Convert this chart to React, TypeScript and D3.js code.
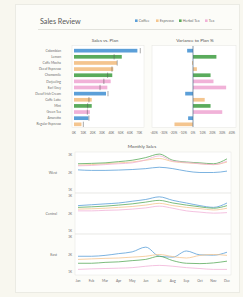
import React from 'react';
import { scaleBand, scaleLinear, scalePoint, line, curveMonotoneX } from 'd3';

const width = 243;
const height = 297;

const types = ['Coffee', 'Espresso', 'Herbal Tea', 'Tea'];
const typeColors = ['#5b9fd8', '#f4c58f', '#5aab5c', '#f1b2d8'];

const products = [
  'Colombian', 'Lemon', 'Caffe Mocha', 'Decaf Espresso', 'Chamomile', 'Darjeeling', 'Earl Grey',
  'Decaf Irish Cream', 'Caffe Latte', 'Mint', 'Green Tea', 'Amaretto', 'Regular Espresso',
];
const productTypes = [
  'Coffee', 'Herbal Tea', 'Espresso', 'Espresso', 'Herbal Tea', 'Tea', 'Tea',
  'Coffee', 'Espresso', 'Herbal Tea', 'Tea', 'Coffee', 'Espresso',
];
// thousands
const sales = [67.9, 51.2, 46, 42.1, 41, 39.3, 35.7, 34.3, 19, 19, 17, 15.4, 8];
const plan = [71, 43, 46.3, 40.7, 36, 32, 27.9, 36.4, 16, 14.6, 14.3, 16, 10];
const variance = [-6, 24, -1, 4, 18, 21, 34, -8, 12, 18, 30, -5, -19];

const salesTicks = [0, 10, 20, 30, 40, 50, 60, 70];
const varianceTicks = [-40, -30, -20, -10, 0, 10, 20, 30, 40];

const months = ['Jan', 'Feb', 'Mar', 'Apr', 'May', 'Jun', 'Jul', 'Aug', 'Sep', 'Oct', 'Nov', 'Dec'];
const regions = ['West', 'Central', 'East'];
const monthlyTicks = [1, 2, 3];

const westCoffee = [2.15, 2.12, 2.12, 2.14, 2.17, 2.22, 2.3, 2.22, 2.08, 2.0, 2.0, 2.08];
const westEspresso = [2.42, 2.45, 2.5, 2.55, 2.6, 2.7, 2.8, 2.62, 2.55, 2.5, 2.45, 2.6];
const westHerbal = [2.5, 2.52, 2.55, 2.62, 2.7, 2.85, 3.05, 2.7, 2.6, 2.55, 2.5, 2.78];
const westTea = [2.38, 2.4, 2.45, 2.5, 2.55, 2.72, 2.95, 2.65, 2.58, 2.5, 2.45, 2.65];

const centralCoffee = [2.45, 2.5, 2.55, 2.6, 2.7, 2.8, 2.95, 2.75, 2.6, 2.45, 2.35, 2.6];
const centralEspresso = [2.25, 2.27, 2.3, 2.35, 2.4, 2.48, 2.58, 2.45, 2.35, 2.28, 2.2, 2.3];
const centralHerbal = [2.35, 2.38, 2.42, 2.48, 2.55, 2.65, 2.75, 2.6, 2.48, 2.38, 2.3, 2.45];
const centralTea = [2.15, 2.15, 2.18, 2.2, 2.25, 2.32, 2.42, 2.3, 2.15, 2.08, 2.02, 2.05];

const eastCoffee = [1.9, 1.9, 1.95, 2.05, 2.15, 2.42, 1.9, 1.85, 2.2, 1.98, 1.96, 2.13];
const eastEspresso = [1.72, 1.75, 1.78, 1.8, 1.85, 1.9, 2.0, 1.88, 1.8, 1.95, 2.0, 1.95];
const eastHerbal = [1.5, 1.5, 1.55, 1.58, 1.65, 1.72, 1.9, 1.65, 1.5, 1.48, 1.52, 1.62];
const eastTea = [1.15, 1.18, 1.2, 1.22, 1.25, 1.33, 1.38, 1.33, 1.25, 1.2, 1.15, 1.15];

const monthly = [
  [westCoffee, westEspresso, westHerbal, westTea],
  [centralCoffee, centralEspresso, centralHerbal, centralTea],
  [eastCoffee, eastEspresso, eastHerbal, eastTea],
];

const font = 'Lato, "Open Sans", sans-serif';
const textColor = '#6b6b6b';
const gridColor = '#e4e4e0';

const colorOf = (t: string) => typeColors[types.indexOf(t)];

const App = () => {
  const yBand = scaleBand().domain(products).range([47.6, 127.4]).paddingInner(0.4).paddingOuter(0.2);
  const xSales = scaleLinear().domain([0, 75]).range([74, 144]);
  const xVar = scaleLinear().domain([-40, 40]).range([154, 232]);

  const xMonth = scalePoint().domain(months).range([78, 227]);
  const rowTop = 152;
  const rowH = 41;
  const yRow = (i: number) =>
    scaleLinear().domain([0.83, 3.17]).range([rowTop + (i + 1) * rowH, rowTop + i * rowH]);

  const legendX = [135, 156, 179, 205];

  return (
    <div style={{ position: 'absolute', left: 0, top: 0 }}>
      <svg width={width} height={height} style={{ display: 'block', fontFamily: font }}>
        <rect width={width} height={height} fill="#f8f7ef" />
        <rect x={15.5} y={4.5} width={224} height={288} fill="#fcfcf8" stroke="#ebebe4" />

        {/* header */}
        <text x={40} y={24} fontSize={7.2} fill="#555">Sales Review</text>
        <line x1={38} x2={232} y1={29.5} y2={29.5} stroke="#e2e2dc" />
        {types.map((t, i) => (
          <g key={t} transform={`translate(${legendX[i]}, 22)`}>
            <rect x={0} y={-2.6} width={2.6} height={2.6} fill={typeColors[i]} />
            <text x={3.8} y={0} fontSize={3.6} fill={textColor}>{t}</text>
          </g>
        ))}

        {/* Sales vs. Plan */}
        <text x={105} y={42} fontSize={4.6} textAnchor="middle" fill="#555">Sales vs. Plan</text>
        <rect x={72} y={45.5} width={72} height={82} fill="#ffffff" stroke={gridColor} strokeWidth={0.5} />
        {salesTicks.map(t => (
          <text key={t} x={xSales(t)} y={134} fontSize={3.2} textAnchor="middle" fill={textColor}>
            {t}K
          </text>
        ))}
        {products.map((p, i) => {
          const y = yBand(p) as number;
          const bw = yBand.bandwidth();
          return (
            <g key={p}>
              <text x={61} y={y + bw / 2} dy="0.35em" fontSize={3.3} textAnchor="end" fill={textColor}>
                {p}
              </text>
              <rect x={xSales(0)} y={y} width={xSales(sales[i]) - xSales(0)} height={bw}
                fill={colorOf(productTypes[i])} />
              <line x1={xSales(plan[i])} x2={xSales(plan[i])} y1={y - 0.8} y2={y + bw + 0.8}
                stroke="#555" strokeWidth={0.5} />
            </g>
          );
        })}

        {/* Variance to Plan % */}
        <text x={195} y={42} fontSize={4.6} textAnchor="middle" fill="#555">Variance to Plan %</text>
        <rect x={152} y={45.5} width={84} height={82} fill="#ffffff" stroke={gridColor} strokeWidth={0.5} />
        {varianceTicks.map(t => (
          <text key={t} x={xVar(t)} y={134} fontSize={3.2} textAnchor="middle" fill={textColor}>
            {t}%
          </text>
        ))}
        {products.map((p, i) => {
          const y = yBand(p) as number;
          const x0 = xVar(Math.min(0, variance[i]));
          const x1 = xVar(Math.max(0, variance[i]));
          return (
            <rect key={p} x={x0} y={y} width={x1 - x0} height={yBand.bandwidth()}
              fill={colorOf(productTypes[i])} />
          );
        })}
        <line x1={xVar(0)} x2={xVar(0)} y1={46} y2={127} stroke="#4d6c88" strokeWidth={0.7} />

        {/* Monthly Sales */}
        <text x={142} y={148} fontSize={4.6} textAnchor="middle" fill="#555">Monthly Sales</text>
        <rect x={75} y={rowTop} width={156} height={rowH * 3} fill="#ffffff" stroke={gridColor} strokeWidth={0.5} />
        {regions.map((r, i) => {
          const ys = yRow(i);
          const mid = rowTop + i * rowH + rowH / 2;
          return (
            <g key={r}>
              {i > 0 && (
                <line x1={75} x2={231} y1={rowTop + i * rowH} y2={rowTop + i * rowH} stroke="#d9d9d4" strokeWidth={0.6} />
              )}
              <text x={57} y={mid} dy="0.35em" fontSize={3.6} textAnchor="end" fill={textColor}>{r}</text>
              {monthlyTicks.map(t => (
                <text key={t} x={72} y={ys(t)} dy="0.35em" fontSize={3} textAnchor="end" fill={textColor}>
                  {t}K
                </text>
              ))}
              {monthly[i].map((vals, k) => {
                const gen = line<number>()
                  .x((_, j) => xMonth(months[j]) as number)
                  .y(v => ys(v))
                  .curve(curveMonotoneX);
                return (
                  <path key={k} d={gen(vals) || ''} fill="none" stroke={typeColors[k]} strokeWidth={0.8} />
                );
              })}
            </g>
          );
        })}
        {months.map(m => (
          <text key={m} x={xMonth(m)} y={282} fontSize={3.4} textAnchor="middle" fill={textColor}>{m}</text>
        ))}
      </svg>
    </div>
  );
};

export default App;
